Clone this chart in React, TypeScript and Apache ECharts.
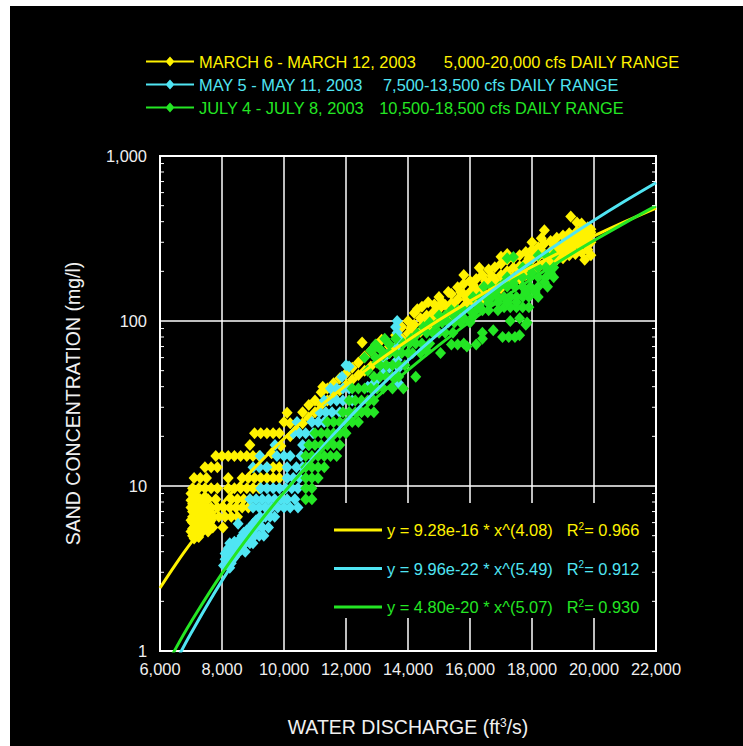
import React, { useEffect, useRef } from 'react';
import * as echarts from 'echarts';

const FONT = '"Liberation Sans", Arial, Helvetica, sans-serif';

const X_MIN = 6000;
const X_MAX = 22000;
const X_STEP = 2000;
const Y_MIN = 1;
const Y_MAX = 1000;

const seriesNames = ['MARCH 6 - MARCH 12, 2003', 'MAY 5 - MAY 11, 2003', 'JULY 4 - JULY 8, 2003'];
const rangeTexts = ['5,000-20,000 cfs DAILY RANGE', '7,500-13,500 cfs DAILY RANGE', '10,500-18,500 cfs DAILY RANGE'];
const equationTexts = ['y = 9.28e-16 * x^(4.08)', 'y = 9.96e-22 * x^(5.49)', 'y = 4.80e-20 * x^(5.07)'];
const r2Texts = ['0.966', '0.912', '0.930'];
const colors = ['#FFF200', '#50E5F3', '#24E624'];

// MARCH 6 - MARCH 12, 2003 : [discharge, sand concentration]
const marchPoints = [
  [7050, 5.0], [7050, 5.5], [7050, 6.0], [7050, 6.5], [7050, 7.0], [7100, 7.6], [7100, 8.1], [7150, 5.2], [7150, 5.8], [7150, 6.3],
  [7200, 6.8], [7200, 7.3], [7250, 5.5], [7250, 6.1], [7300, 6.6], [7300, 7.2], [7350, 5.9], [7350, 6.4], [7400, 7.0], [7400, 7.6],
  [7450, 6.2], [7500, 6.7], [7550, 7.3], [7100, 4.8], [7200, 5.0], [7000, 5.3], [7000, 6.2], [7300, 8.3], [7450, 8.6], [7600, 6.0],
  [7000, 7.4], [7150, 8.6], [7250, 4.9], [7400, 5.4], [7500, 5.8],
  [7050, 7.8], [7100, 5.6], [7150, 6.9], [7200, 5.6], [7200, 6.1], [7250, 6.8], [7300, 5.2], [7300, 6.0], [7350, 7.0], [7350, 7.8],
  [7400, 6.2], [7450, 5.6], [7450, 7.2], [7500, 6.2], [7550, 6.6], [7600, 7.0], [7000, 8.2], [7000, 9.0], [7100, 9.2], [7200, 8.6],
  [7550, 5.3], [7650, 6.2],
  [7700, 5.6], [8030, 5.6],
  [7700, 6.5], [7900, 6.5], [8100, 6.5], [8300, 6.5], [8500, 6.5],
  [7650, 7.4], [7850, 7.4], [8050, 7.4], [8250, 7.4], [8450, 7.4], [8650, 7.4], [8850, 7.4],
  [7550, 8.3], [7800, 8.3], [8300, 8.3], [8500, 8.3], [8700, 8.3], [8900, 8.3],
  [7050, 9.7], [7250, 9.7], [7450, 9.7], [7650, 9.7], [7850, 9.7], [8200, 9.7], [8400, 9.7], [8600, 9.7], [8800, 9.7], [9000, 9.7], [9200, 9.7],
  [7100, 11.2], [7300, 11.2], [7500, 11.2], [8200, 11.2], [8650, 11.2], [8850, 11.2], [9050, 11.2], [9250, 11.2], [9450, 11.2], [9650, 11.2], [9850, 11.2],
  [7450, 13], [7650, 13], [7850, 13], [9450, 13], [9650, 13], [9850, 13],
  [7800, 15.2], [8000, 15.2], [8200, 15.2], [8400, 15.2], [8600, 15.2], [8800, 15.2], [9000, 15.2], [9200, 15.2],
  [8900, 17.7], [9600, 15.8], [9900, 17.5],
  [9050, 20.9], [9250, 20.9], [9450, 20.9], [9650, 20.9], [9850, 20.9],
  [10000, 24.4], [10100, 27.8],
  [10200, 20], [10200, 24], [10400, 22], [10600, 24], [10600, 28], [10800, 26], [10800, 31], [11000, 28], [11000, 33],
  [11200, 31], [11200, 37], [11250, 40], [11400, 33], [11400, 39], [11600, 35], [11600, 42], [11800, 38], [11800, 45],
  [12000, 41], [12000, 48], [12200, 44], [12200, 52], [12400, 47], [12400, 56], [12520, 74], [12600, 50], [12600, 61],
  [12800, 53], [12800, 66], [13000, 56], [13000, 72], [13150, 77], [13200, 60], [13400, 64], [13400, 70], [13600, 68], [13600, 82],
  [13800, 78], [13800, 92], [14000, 84], [14000, 100], [14200, 80], [14200, 95], [14200, 112], [14400, 86], [14400, 104], [14450, 122],
  [14600, 90], [14600, 108], [14650, 130], [14800, 95], [14800, 112], [14850, 126], [15000, 100], [15000, 118], [15000, 140],
  [15200, 104], [15200, 125], [15300, 112], [15400, 110], [15400, 128], [15400, 146], [15600, 115], [15600, 135], [15600, 160],
  [15800, 122], [15800, 145], [15800, 168], [15800, 190], [16000, 126], [16000, 150], [16000, 175], [16200, 130], [16200, 155],
  [16200, 180], [16300, 210], [16400, 136], [16400, 160], [16400, 190], [16600, 140], [16600, 170], [16600, 205], [16800, 150],
  [16800, 178], [16800, 212], [17000, 158], [17000, 190], [17000, 222], [17000, 245], [17200, 165], [17200, 200], [17200, 235],
  [17200, 255], [17400, 172], [17400, 210], [17400, 240], [17600, 180], [17600, 215], [17600, 250], [17800, 190], [17800, 225],
  [17800, 262], [18000, 200], [18000, 235], [18000, 270], [18000, 300], [18200, 210], [18200, 245], [18200, 280], [18300, 317],
  [18400, 220], [18400, 255], [18400, 295], [18400, 355], [18600, 225], [18600, 265], [18600, 305], [18800, 235], [18800, 275],
  [18800, 320], [19000, 240], [19000, 285], [19000, 330], [19200, 250], [19200, 295], [19200, 340], [19250, 430], [19400, 255],
  [19400, 300], [19450, 350], [19450, 395], [19600, 260], [19600, 310], [19600, 360], [19600, 390], [19700, 235], [19800, 270],
  [19800, 320], [19800, 370], [19900, 250], [19900, 300], [19900, 345],
  [14100, 90], [14300, 118], [14500, 96], [14700, 100], [14900, 105], [15100, 130], [15300, 150], [15500, 122], [15700, 150],
  [15900, 135], [16100, 165], [16300, 145], [16500, 175], [16700, 188], [16900, 165], [17100, 175], [17300, 185], [17500, 195],
  [17700, 205], [17900, 240], [18100, 255], [18300, 265], [18500, 240], [18700, 290], [18900, 255], [19100, 270], [19300, 280],
  [19500, 290], [19700, 300], [19100, 310], [19300, 320], [19500, 330], [19700, 340], [19900, 360],
];

// MAY 5 - MAY 11, 2003
const mayPoints = [
  [8050, 3.3], [8100, 3.6], [8200, 3.5], [8300, 3.8], [8250, 3.2], [8400, 3.7], [8150, 4.0], [8350, 4.2], [8500, 3.9], [8450, 4.3],
  [8600, 4.1], [8550, 4.6], [8700, 4.4], [8800, 4.7], [8650, 5.0], [8900, 4.5], [9000, 4.5],
  [8100, 3.9], [8200, 4.2], [8300, 3.4], [8400, 4.6], [8500, 4.4], [8600, 4.8], [8700, 5.2], [8750, 4.0], [8250, 4.5], [8350, 3.6],
  [8800, 5.4], [9000, 5.9], [9100, 6.2],
  [8900, 5.0], [9050, 5.0], [9200, 5.0], [9350, 5.0],
  [8900, 5.6], [9100, 5.6], [9300, 5.6], [9500, 5.6], [8520, 5.9],
  [9230, 6.5], [9400, 6.5], [9550, 6.5], [9700, 6.5],
  [9000, 7.4], [9200, 7.4], [9400, 7.4], [9600, 7.4], [9800, 7.4], [10000, 7.4], [10200, 7.4], [10450, 7.4],
  [8900, 8.3], [9100, 8.3], [9300, 8.3], [9500, 8.3], [9700, 8.3], [9900, 8.3], [10100, 8.3], [10350, 8.3],
  [9250, 9.7], [9450, 9.7], [9650, 9.7], [9850, 9.7], [10050, 9.7], [10250, 9.7], [10450, 9.7],
  [10100, 11.2], [10300, 11.2], [10500, 11.2],
  [9000, 13], [9200, 13], [9450, 13], [10100, 13], [10400, 13], [10600, 13],
  [9230, 15.2], [9770, 15.2], [10000, 15.2], [10200, 15.2], [10550, 15.2],
  [9710, 17.7], [10600, 17.7], [10800, 17.7],
  [10300, 20.9], [10500, 20.9], [10700, 20.9], [10940, 20.9],
  [10420, 24.4], [10900, 24.4], [11100, 24.4], [11300, 24.4],
  [11150, 28], [11350, 28], [11550, 28], [11800, 28], [12100, 28],
  [11300, 33], [11500, 33], [11700, 33], [11900, 33], [12200, 33],
  [11500, 39], [11700, 39], [11900, 39], [12100, 39],
  [11870, 46], [12000, 54], [12100, 53],
  [13650, 100], [13600, 92], [13650, 85], [13700, 78], [13650, 71], [13700, 64], [13650, 58], [13700, 52], [13650, 47], [13700, 42],
  [13000, 44], [13200, 48], [13400, 52], [13100, 58], [13300, 62], [12700, 40], [12900, 42],
];

// JULY 4 - JULY 8, 2003
const julyPoints = [
  [10700, 8.3], [10900, 8.3],
  [10700, 9.7], [10900, 9.7],
  [10700, 11.2], [10900, 11.2], [11100, 11.2],
  [10700, 13], [10900, 13], [11100, 13], [11300, 13],
  [10700, 15.2], [10900, 15.2], [11100, 15.2], [11300, 15.2], [11500, 15.2], [11700, 15.2],
  [10800, 17.7], [11000, 17.7], [11200, 17.7], [11400, 17.7], [11600, 17.7], [11800, 17.7],
  [11000, 20.9], [11200, 20.9], [11400, 20.9], [11600, 20.9], [11800, 20.9], [12000, 20.9],
  [11400, 24.4], [11600, 24.4], [11800, 24.4], [12000, 24.4], [12200, 24.4], [12400, 24.4],
  [11900, 28], [12100, 28], [12300, 28], [12500, 28], [12700, 28], [12900, 28],
  [12100, 33], [12300, 33], [12500, 33], [12700, 33], [12900, 33],
  [12200, 39], [12400, 39], [12600, 39], [12800, 39], [13000, 39], [13200, 39], [13500, 39], [13850, 39],
  [12900, 46], [13100, 46], [13300, 46], [14250, 46], [13500, 46], [13700, 46],
  [13100, 54], [13300, 54], [13500, 54], [13700, 54], [13900, 54],
  [13400, 64], [13600, 64], [13800, 64], [14000, 64], [14150, 64], [15050, 64],
  [13850, 73], [14050, 73], [14250, 73], [14450, 73], [14700, 73], [15800, 73],
  [14600, 85], [14800, 85], [15000, 85], [15200, 85], [15450, 85], [16400, 85],
  [15100, 98], [15300, 98], [15500, 98], [15700, 98], [16000, 98],
  [15400, 116], [15600, 116], [15800, 116], [16000, 116], [16200, 116], [16400, 116], [16600, 116], [16900, 116],
  [17100, 121], [17300, 121], [17500, 121], [17700, 121], [17900, 121],
  [16100, 140], [16300, 140], [16500, 140], [16700, 140], [16900, 140], [17100, 140], [17300, 140], [17500, 140], [17700, 140], [17900, 140], [18200, 140],
  [16450, 161], [16700, 161], [16950, 161], [17200, 161], [17450, 161], [17700, 161], [17950, 161], [18200, 161], [18500, 161],
  [17200, 184], [17450, 184], [17700, 184], [17950, 184], [18200, 184], [18450, 184], [18700, 184],
  [17700, 211], [17950, 211], [18200, 211], [18450, 211], [18700, 211],
  [17400, 244], [17200, 240], [18200, 250], [18450, 250], [18700, 252],
  [17840, 98], [16750, 88], [17050, 80], [17250, 80], [17450, 80], [17600, 82], [17800, 95], [15400, 72], [15600, 72], [15900, 70],
  [16200, 72], [16400, 78], [17300, 100], [17600, 104],
  [12600, 60], [12800, 66], [13000, 70], [13200, 62], [12700, 50], [13000, 56], [12950, 72], [13250, 78],
  [12950, 60], [13150, 66], [13400, 72], [13600, 78], [14100, 78], [14300, 84], [14500, 92], [14700, 98], [15000, 108],
  [14400, 64], [14600, 66], [14900, 95], [15200, 108], [15500, 106], [15800, 104], [16100, 106], [16300, 125], [16600, 128],
  [16900, 130], [17200, 130], [17500, 130], [17800, 150], [18100, 150], [18400, 172], [18600, 195], [16800, 150], [17100, 170],
  [17400, 170], [18000, 196],
];

// power-law fit curves, as drawn on the chart
const fitX = [6000, 6500, 7000, 8000, 9000, 10000, 11000, 12000, 13000, 14000, 15000, 16000, 17000, 18000, 19000, 20000, 21000, 22000];
const marchFit = [2.41, 3.34, 4.52, 7.80, 12.61, 19.39, 28.60, 40.78, 56.55, 76.49, 101.4, 131.9, 168.9, 213.3, 266.0, 327.9, 400.2, 483.7];
const mayFit = [0.550, 0.854, 1.282, 2.669, 5.095, 9.085, 15.33, 24.72, 38.35, 57.63, 84.14, 119.9, 167.3, 228.9, 308.0, 408.3, 533.7, 689.0];
const julyFit = [0.686, 1.030, 1.499, 2.951, 5.361, 9.148, 14.83, 23.05, 34.58, 50.36, 71.45, 99.11, 134.8, 180.1, 236.9, 307.2, 393.4, 498.2];

const minorTickValues = [2, 3, 4, 5, 6, 7, 8, 9, 20, 30, 40, 50, 60, 70, 80, 90, 200, 300, 400, 500, 600, 700, 800, 900];

const rangeGaps = [28, 20, 15];

export default function App() {
  const ref = useRef<HTMLDivElement>(null);

  useEffect(() => {
    if (!ref.current) return;
    const chart = echarts.init(ref.current, null, { renderer: 'svg' });
    const fs = 16.4;
    const titleFs = 19.5;
    const pointSets = [marchPoints, mayPoints, julyPoints];
    const fits = [marchFit, mayFit, julyFit];

    const rich1: any = {};
    const rich2: any = {};
    colors.forEach((c, i) => {
      rich1['a' + i] = { color: c, fontSize: fs, lineHeight: 18, fontFamily: FONT };
      rich1['b' + i] = { color: c, fontSize: fs, lineHeight: 18, fontFamily: FONT, padding: [0, 0, 0, rangeGaps[i]] };
      rich2['e' + i] = { color: c, fontSize: fs, lineHeight: 18, fontFamily: FONT };
      rich2['r' + i] = { color: c, fontSize: fs, lineHeight: 18, fontFamily: FONT, padding: [0, 0, 0, 14] };
      rich2['s' + i] = { color: c, fontSize: 10, lineHeight: 10, fontFamily: FONT, verticalAlign: 'top' };
      rich2['t' + i] = { color: c, fontSize: fs, lineHeight: 18, fontFamily: FONT };
    });

    const fmt = (v: number) => Math.round(v).toLocaleString('en-US');

    const series: any[] = [];
    pointSets.forEach((pts, i) => {
      series.push({
        type: 'scatter',
        name: seriesNames[i],
        data: pts,
        symbol: 'diamond',
        symbolSize: [11, 12],
        itemStyle: { color: colors[i], opacity: 1 },
        z: 2,
        silent: true,
      });
    });
    fits.forEach((f, i) => {
      series.push({
        type: 'line',
        name: equationTexts[i],
        data: fitX.map((x, j) => [x, f[j]]),
        showSymbol: false,
        symbol: 'none',
        smooth: 0.4,
        lineStyle: { color: colors[i], width: 3 },
        itemStyle: { color: colors[i] },
        z: 5,
        silent: true,
      });
    });
    series.push({
      type: 'custom',
      data: minorTickValues.map((v) => [X_MIN, v]),
      silent: true,
      z: 6,
      clip: false,
      renderItem: (params: any, api: any) => {
        const v = api.value(1);
        const pl = api.coord([X_MIN, v]);
        const pr = api.coord([X_MAX, v]);
        return {
          type: 'group',
          children: [
            { type: 'line', shape: { x1: pl[0], y1: pl[1], x2: pl[0] + 4, y2: pl[1] }, style: { stroke: '#ffffff', lineWidth: 1 } },
            { type: 'line', shape: { x1: pr[0] - 4, y1: pr[1], x2: pr[0], y2: pr[1] }, style: { stroke: '#ffffff', lineWidth: 1 } },
          ],
        };
      },
    });

    chart.setOption({
      animation: false,
      backgroundColor: '#000000',
      textStyle: { fontFamily: FONT },
      grid: {
        left: 150, top: 150, right: 87, bottom: 95,
        show: true, borderColor: '#ffffff', borderWidth: 2, backgroundColor: 'transparent',
      },
      xAxis: {
        type: 'value',
        min: X_MIN, max: X_MAX, interval: X_STEP,
        name: 'WATER DISCHARGE (ft{sup|3}/s)',
        nameLocation: 'middle',
        nameGap: 66,
        nameTextStyle: {
          color: '#f0f0f0', fontSize: titleFs, fontFamily: FONT, lineHeight: 20,
          rich: { sup: { color: '#f0f0f0', fontSize: 12, lineHeight: 12, fontFamily: FONT, verticalAlign: 'top' } },
        },
        axisLine: { show: false },
        axisTick: { show: false },
        axisLabel: { color: '#f0f0f0', fontSize: fs, fontFamily: FONT, margin: 10, formatter: fmt },
        splitLine: { show: true, lineStyle: { color: '#ffffff', width: 1.5 } },
      },
      yAxis: {
        type: 'log',
        logBase: 10,
        min: Y_MIN, max: Y_MAX,
        name: 'SAND CONCENTRATION (mg/l)',
        nameLocation: 'middle',
        nameRotate: 90,
        nameGap: 77,
        nameTextStyle: { color: '#f0f0f0', fontSize: titleFs, fontFamily: FONT, lineHeight: 20 },
        axisLine: { show: false },
        axisTick: { show: false },
        minorTick: { show: false },
        axisLabel: { color: '#f0f0f0', fontSize: fs, fontFamily: FONT, margin: 13, formatter: fmt },
        splitLine: { show: true, lineStyle: { color: '#ffffff', width: 1.5 } },
      },
      legend: [
        {
          orient: 'vertical',
          left: 136, top: 47.5, padding: 0,
          itemWidth: 48, itemHeight: 10, itemGap: 7,
          icon: 'path://M0,4H48V6H0Z M24,0L28.5,5L24,10L19.5,5Z',
          selectedMode: false,
          data: seriesNames,
          formatter: (name: string) => {
            const i = seriesNames.indexOf(name);
            return `{a${i}|${name}}{b${i}|${rangeTexts[i]}}`;
          },
          textStyle: { fontSize: fs, fontFamily: FONT, rich: rich1 },
        },
        {
          orient: 'vertical',
          left: 324, top: 515, padding: 0,
          itemWidth: 48, itemHeight: 3, itemGap: 21.5,
          icon: 'rect',
          selectedMode: false,
          data: equationTexts,
          formatter: (name: string) => {
            const i = equationTexts.indexOf(name);
            return `{e${i}|${name}}{r${i}|R}{s${i}|2}{t${i}|= ${r2Texts[i]}}`;
          },
          textStyle: { fontSize: fs, fontFamily: FONT, rich: rich2 },
        },
      ],
      graphic: [
        {
          type: 'rect',
          left: 320, top: 497,
          z: 1,
          shape: { width: 318, height: 115 },
          style: { fill: '#000000' },
          silent: true,
        },
      ],
      series,
    });

    return () => chart.dispose();
  }, []);

  return (
    <div
      ref={ref}
      style={{ position: 'fixed', left: 10, top: 6, width: 733, height: 740 }}
    />
  );
}
